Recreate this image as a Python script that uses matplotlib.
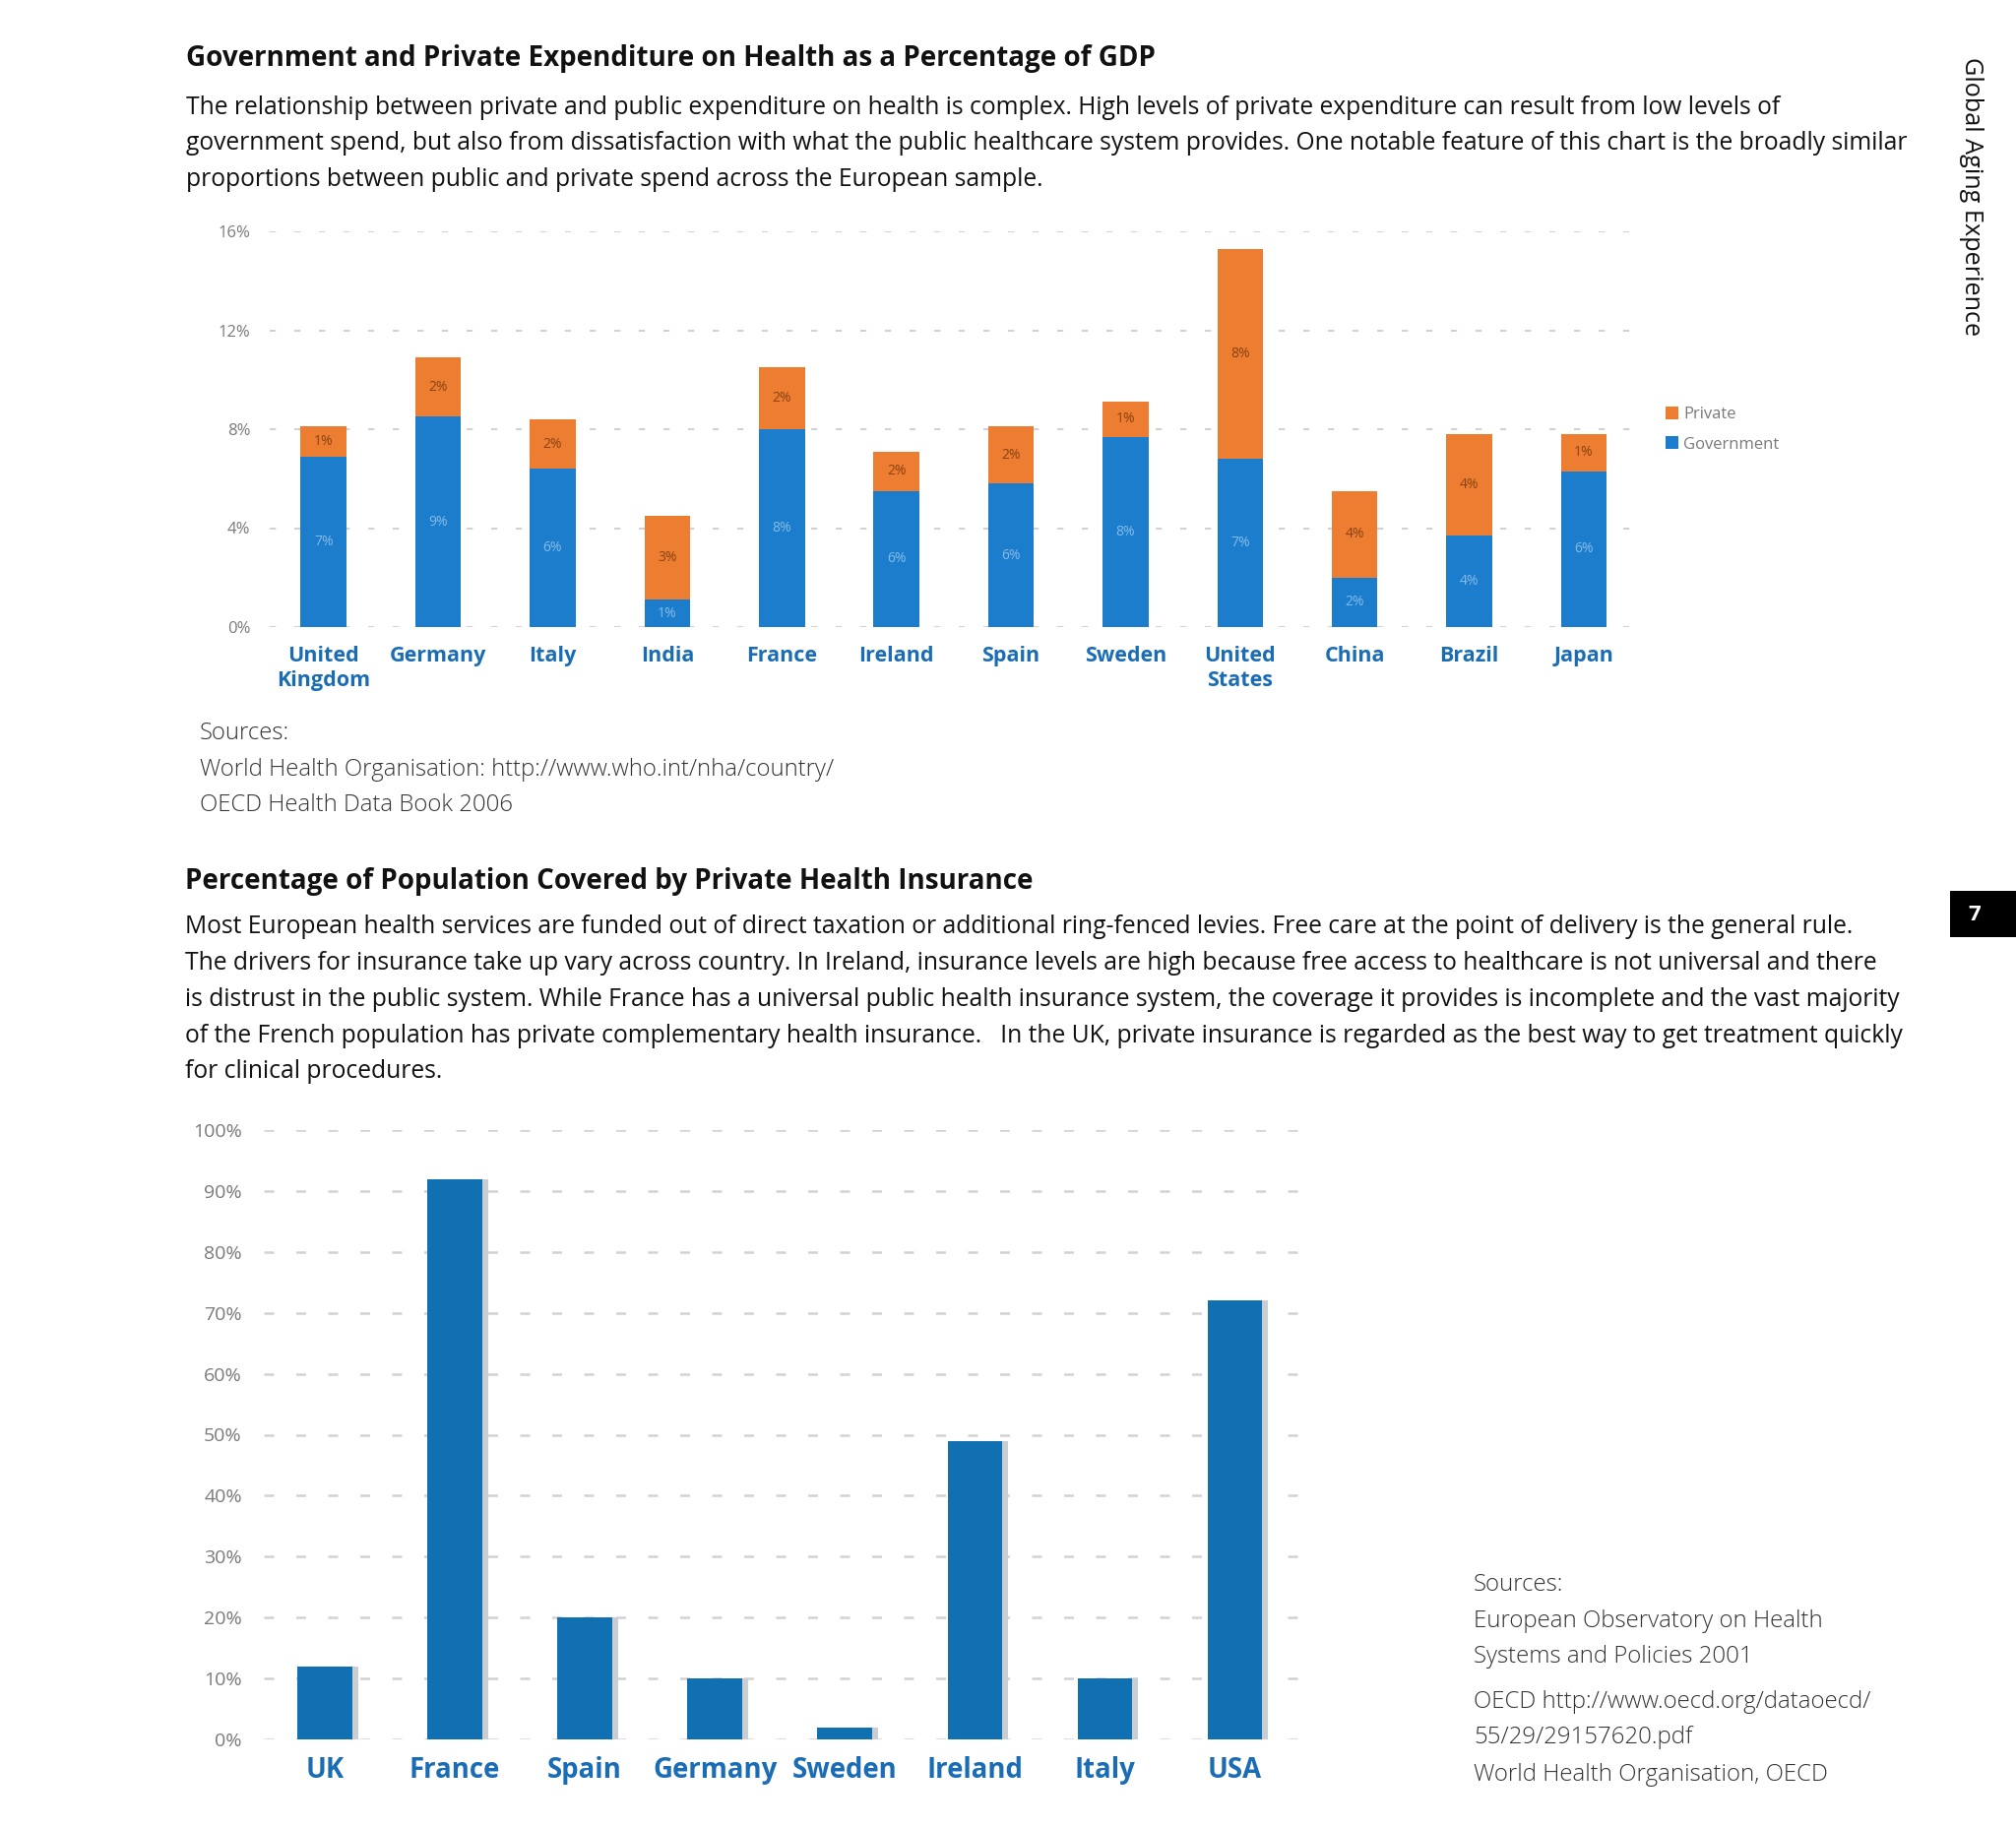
import matplotlib
matplotlib.use("Agg")
import matplotlib.pyplot as plt
from matplotlib.patches import Rectangle

# ---------------- data ----------------
countries1 = ["United\nKingdom", "Germany", "Italy", "India", "France", "Ireland",
              "Spain", "Sweden", "United\nStates", "China", "Brazil", "Japan"]
government = [6.9, 8.5, 6.4, 1.1, 8.0, 5.5, 5.8, 7.7, 6.8, 2.0, 3.7, 6.3]
private = [1.2, 2.4, 2.0, 3.4, 2.5, 1.6, 2.3, 1.4, 8.5, 3.5, 4.1, 1.5]
gov_labels = ["7%", "9%", "6%", "1%", "8%", "6%", "6%", "8%", "7%", "2%", "4%", "6%"]
priv_labels = ["1%", "2%", "2%", "3%", "2%", "2%", "2%", "1%", "8%", "4%", "4%", "1%"]
yticks1 = [0, 4, 8, 12, 16]
ytick_labels1 = ["0%", "4%", "8%", "12%", "16%"]

countries2 = ["UK", "France", "Spain", "Germany", "Sweden", "Ireland", "Italy", "USA"]
insured = [12, 92, 20, 10, 2, 49, 10, 72]
yticks2 = [0, 10, 20, 30, 40, 50, 60, 70, 80, 90, 100]
ytick_labels2 = ["0%", "10%", "20%", "30%", "40%", "50%", "60%", "70%", "80%", "90%", "100%"]

title1 = "Government and Private Expenditure on Health as a Percentage of GDP"
para1 = ["The relationship between private and public expenditure on health is complex. High levels of private expenditure can result from low levels of",
         "government spend, but also from dissatisfaction with what the public healthcare system provides. One notable feature of this chart is the broadly similar",
         "proportions between public and private spend across the European sample."]
sources1 = ["Sources:", "World Health Organisation: http://www.who.int/nha/country/", "OECD Health Data Book 2006"]

title2 = "Percentage of Population Covered by Private Health Insurance"
para2 = ["Most European health services are funded out of direct taxation or additional ring-fenced levies. Free care at the point of delivery is the general rule.",
         "The drivers for insurance take up vary across country. In Ireland, insurance levels are high because free access to healthcare is not universal and there",
         "is distrust in the public system. While France has a universal public health insurance system, the coverage it provides is incomplete and the vast majority",
         "of the French population has private complementary health insurance.   In the UK, private insurance is regarded as the best way to get treatment quickly",
         "for clinical procedures."]
sources2 = ["Sources:", "European Observatory on Health", "Systems and Policies 2001",
            "OECD http://www.oecd.org/dataoecd/", "55/29/29157620.pdf", "World Health Organisation, OECD"]

# ---------------- style ----------------
W, H = 2048, 1857
BLUE1 = "#1b7dcc"
ORANGE = "#ec7d31"
BLUE2 = "#1170b2"
LABEL_BLUE = "#1a6db5"
GRID = "#d2d2d2"
FONT = ["Open Sans", "DejaVu Sans"]
plt.rcParams["font.family"] = FONT

fig = plt.figure(figsize=(W / 100, H / 100), dpi=100)
fig.patch.set_facecolor("white")


def fx(px):
    return px / W


def fy(py):
    return 1 - py / H


# ---------------- texts ----------------
fig.text(fx(189), fy(60), title1, fontsize=20, fontweight="bold", color="#111111", va="center", ha="left")
for i, line in enumerate(para1):
    fig.text(fx(189), fy(109 + i * 36.6), line, fontsize=17.7, color="#111111", va="center", ha="left")
for i, line in enumerate(sources1):
    fig.text(fx(203), fy(745 + i * 36.6), line, fontsize=17.2, color="#333333", fontweight="light",
             va="center", ha="left")

fig.text(fx(188), fy(895), title2, fontsize=20, fontweight="bold", color="#111111", va="center", ha="left")
for i, line in enumerate(para2):
    fig.text(fx(188), fy(942 + i * 36.7), line, fontsize=17.7, color="#111111", va="center", ha="left")
src2_y = [1610, 1647, 1683, 1729, 1765, 1803]
for line, yy in zip(sources2, src2_y):
    fig.text(fx(1497), fy(yy), line, fontsize=17.3, color="#333333", fontweight="light", va="center", ha="left")

fig.text(fx(2002), fy(200), "Global Aging Experience", rotation=-90, fontsize=18.2, color="#111111",
         va="center", ha="center")

fig.patches.append(Rectangle((fx(1981), fy(952)), fx(67), (952 - 905) / H, transform=fig.transFigure,
                             facecolor="black", edgecolor="none"))
fig.text(fx(2006), fy(929), "7", fontsize=16, fontweight="bold", color="white", va="center", ha="center")

# ---------------- chart 1 ----------------
ax1 = fig.add_axes([fx(274), fy(637), fx(1659 - 274), (637 - 235) / H])
x1 = list(range(len(countries1)))
b_gov = ax1.bar(x1, government, width=0.40, color=BLUE1, zorder=3, label="Government")
b_priv = ax1.bar(x1, private, width=0.40, bottom=government, color=ORANGE, zorder=3, label="Private")
for xi, g, p, gl, pl in zip(x1, government, private, gov_labels, priv_labels):
    ax1.text(xi, g / 2, gl, ha="center", va="center", fontsize=10, color="#86bbe8", zorder=4)
    ax1.text(xi, g + p / 2, pl, ha="center", va="center", fontsize=10, color="#8a4313", zorder=4)
ax1.set_xlim(-0.47, len(countries1) - 1 + 0.43)
ax1.set_ylim(0, 16)
ax1.set_yticks(yticks1)
ax1.set_yticklabels(ytick_labels1, fontsize=12, color="#7a7a7a")
ax1.set_xticks(x1)
ax1.set_xticklabels(countries1, fontsize=15.5, fontweight="bold", color=LABEL_BLUE, linespacing=1.2)
ax1.tick_params(axis="both", length=0)
ax1.tick_params(axis="y", pad=14)
ax1.tick_params(axis="x", pad=14)
ax1.grid(axis="y", color=GRID, linestyle=(0, (3, 9)), linewidth=1.5, zorder=0)
for s in ax1.spines.values():
    s.set_visible(False)
ax1.set_facecolor("none")
leg = ax1.legend(handles=[b_priv, b_gov], loc="upper left", bbox_to_anchor=(fx(1692), fy(413)),
                 bbox_transform=fig.transFigure, frameon=False, fontsize=12, handlelength=0.8,
                 handleheight=0.8, handletextpad=0.3, labelspacing=0.85, borderpad=0,
                 borderaxespad=0)
for t in leg.get_texts():
    t.set_color("#7a7a7a")

# ---------------- chart 2 ----------------
ax2 = fig.add_axes([fx(268), fy(1767), fx(1319 - 268), (1767 - 1148) / H])
x2 = list(range(len(countries2)))
ax2.bar([v + 0.045 for v in x2], insured, width=0.42, color="#c9ced4", zorder=2)
ax2.bar(x2, insured, width=0.42, color=BLUE2, zorder=3)
ax2.set_xlim(-0.47, len(countries2) - 1 + 0.49)
ax2.set_ylim(0, 100)
ax2.set_yticks(yticks2)
ax2.set_yticklabels(ytick_labels2, fontsize=14, color="#7a7a7a")
ax2.set_xticks(x2)
ax2.set_xticklabels(countries2, fontsize=19.8, fontweight="bold", color=LABEL_BLUE)
ax2.tick_params(axis="both", length=0)
ax2.tick_params(axis="y", pad=16)
ax2.tick_params(axis="x", pad=12)
ax2.grid(axis="y", color=GRID, linestyle=(0, (4, 9)), linewidth=1.8, zorder=0)
for s in ax2.spines.values():
    s.set_visible(False)
ax2.set_facecolor("none")

fig.savefig("out.png", dpi=100, facecolor="white")
